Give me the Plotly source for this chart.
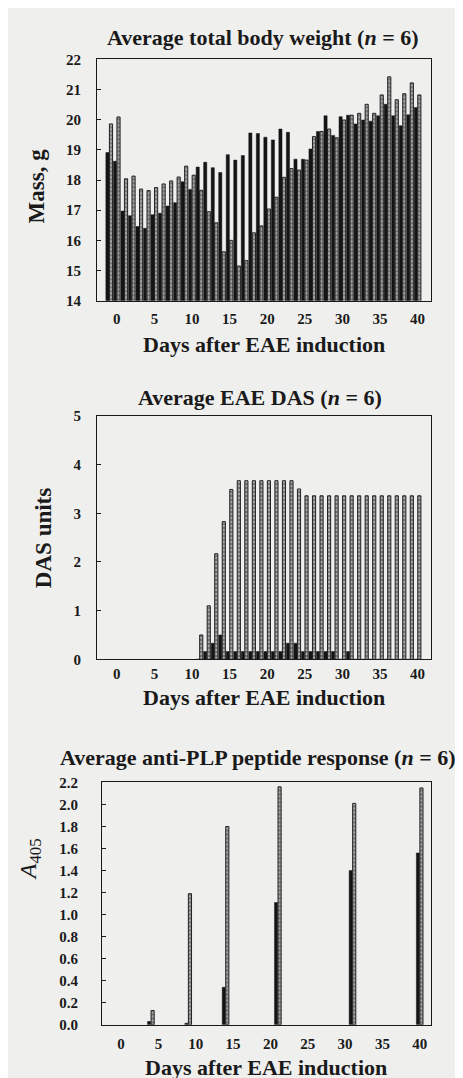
import plotly.graph_objects as go

# ---------------- data ----------------
days_weight = list(range(-1, 41))
weight_black = [18.91, 18.62, 16.97, 16.82, 16.46, 16.40, 16.85, 16.90, 17.14, 17.25,
                17.94, 17.69, 18.43, 18.59, 18.41, 18.25, 18.84, 18.66, 18.81, 19.56,
                19.54, 19.42, 19.33, 19.69, 19.58, 18.69, 18.69, 19.03, 19.61, 20.13,
                19.48, 20.10, 20.15, 19.86, 19.99, 19.95, 20.13, 20.51, 20.13, 19.80,
                20.16, 20.40]
weight_gray = [19.86, 20.09, 18.04, 18.13, 17.70, 17.65, 17.75, 17.87, 17.97, 18.10,
               18.46, 18.16, 17.66, 16.95, 16.58, 15.62, 16.00, 15.15, 15.33, 16.25,
               16.48, 17.04, 17.43, 18.09, 18.38, 18.33, 18.66, 19.44, 19.61, 19.69,
               19.40, 19.99, 20.15, 20.21, 20.51, 20.21, 20.82, 21.42, 20.66, 20.86,
               21.22, 20.82]

days_das = list(range(11, 41))
das_black = [0.00, 0.16, 0.33, 0.50, 0.16, 0.16, 0.16, 0.16, 0.16, 0.16,
             0.16, 0.16, 0.33, 0.33, 0.16, 0.16, 0.16, 0.16, 0.16, 0.00,
             0.16, 0.00, 0.00, 0.00, 0.00, 0.00, 0.00, 0.00, 0.00, 0.00]
das_gray = [0.50, 1.10, 2.17, 2.83, 3.49, 3.67, 3.67, 3.67, 3.67, 3.67,
            3.67, 3.67, 3.67, 3.50, 3.36, 3.36, 3.36, 3.36, 3.36, 3.36,
            3.36, 3.36, 3.36, 3.36, 3.36, 3.36, 3.36, 3.36, 3.36, 3.36]

days_plp = [4, 9, 14, 21, 31, 40]
plp_black = [0.03, 0.015, 0.34, 1.11, 1.40, 1.56]
plp_gray = [0.13, 1.19, 1.80, 2.16, 2.01, 2.15]

x_ticks = [0, 5, 10, 15, 20, 25, 30, 35, 40]

# ---------------- style ----------------
W, H = 463, 1078
BG = "#efefee"
INK = "#1a1a1a"
BLACK_BAR = "#141414"
GRAY_BAR = "#767676"
SERIF = "Liberation Serif, Times New Roman, serif"


def fx(p):
    return p / W


def fy(p):
    return 1 - p / H


fig = go.Figure()


def add_pair(days, black, gray, xa, ya):
    fig.add_trace(go.Bar(x=days, y=black, xaxis=xa, yaxis=ya, width=0.42, offset=-0.45,
                         marker=dict(color=BLACK_BAR, line=dict(color=BLACK_BAR, width=0.5)),
                         showlegend=False))
    fig.add_trace(go.Bar(x=days, y=gray, xaxis=xa, yaxis=ya, width=0.42, offset=0.02,
                         marker=dict(color=GRAY_BAR,
                                     line=dict(color="#222222", width=1),
                                     pattern=dict(shape="-", fgcolor="#eeeeee", bgcolor=GRAY_BAR,
                                                  size=4, solidity=0.4)),
                         showlegend=False))


add_pair(days_weight, weight_black, weight_gray, "x", "y")
add_pair(days_das, das_black, das_gray, "x2", "y2")
add_pair(days_plp, plp_black, plp_gray, "x3", "y3")

tick_font = dict(family=SERIF, size=15, color=INK, weight="bold")

xcommon = dict(showline=True, mirror=True, linecolor=INK, linewidth=1.2, ticks="",
               tickvals=x_ticks, tickfont=tick_font, showgrid=False, zeroline=False)
ycommon = dict(showline=True, mirror=True, linecolor=INK, linewidth=1.2, ticks="inside",
               ticklen=4, tickwidth=1, tickcolor=INK, tickfont=tick_font, showgrid=False,
               zeroline=False)

fig.update_layout(
    width=W, height=H,
    margin=dict(l=0, r=0, t=0, b=0),
    paper_bgcolor=BG, plot_bgcolor=BG,
    barmode="overlay",
    xaxis=dict(domain=[fx(89), fx(423)], range=[-2.63, 41.78], anchor="y",
               ticklabelstandoff=4, **xcommon),
    yaxis=dict(domain=[fy(289), fy(44)], range=[14, 22], dtick=1, anchor="x",
               ticklabelstandoff=12, **ycommon),
    xaxis2=dict(domain=[fx(89), fx(423)], range=[-2.63, 41.78], anchor="y2",
                ticklabelstandoff=1, **xcommon),
    yaxis2=dict(domain=[fy(653), fy(406)], range=[0, 5], dtick=1, anchor="x2",
                ticklabelstandoff=12, **ycommon),
    xaxis3=dict(domain=[fx(94), fx(423)], range=[-2.55, 41.51], anchor="y3",
                ticklabelstandoff=5, **xcommon),
    yaxis3=dict(domain=[fy(1024), fy(778)], range=[0, 2.2], dtick=0.2, tickformat=".1f",
                anchor="x3", ticklabelstandoff=20, **ycommon),
)

title_font = dict(family=SERIF, size=22, color=INK, weight="bold")
annos = [
    ("Average total body weight (<i>n</i> = 6)", 255, 22),
    ("Days after EAE induction", 256, 333),
    ("Average EAE DAS (<i>n</i> = 6)", 252, 387),
    ("Days after EAE induction", 256, 692),
    ("Average anti-PLP peptide response (<i>n</i> = 6)", 250, 753),
    ("Days after EAE induction", 258, 1067),
]
for text, x, y in annos:
    fig.add_annotation(text=text, x=fx(x), y=fy(y), xref="paper", yref="paper",
                       showarrow=False, font=title_font, xanchor="center", yanchor="middle")

ytitle_font = dict(family=SERIF, size=23, color=INK, weight="bold")
fig.add_annotation(text="Mass, g", x=fx(28), y=fy(173), xref="paper", yref="paper",
                   showarrow=False, textangle=-90, font=ytitle_font,
                   xanchor="center", yanchor="middle")
fig.add_annotation(text="DAS units", x=fx(35), y=fy(530), xref="paper", yref="paper",
                   showarrow=False, textangle=-90, font=ytitle_font,
                   xanchor="center", yanchor="middle")
fig.add_annotation(text="<i>A</i><sub>405</sub>", x=fx(22), y=fy(856), xref="paper", yref="paper",
                   showarrow=False, textangle=-90,
                   font=dict(family=SERIF, size=24, color=INK),
                   xanchor="center", yanchor="middle")

fig.write_html("out.html")
